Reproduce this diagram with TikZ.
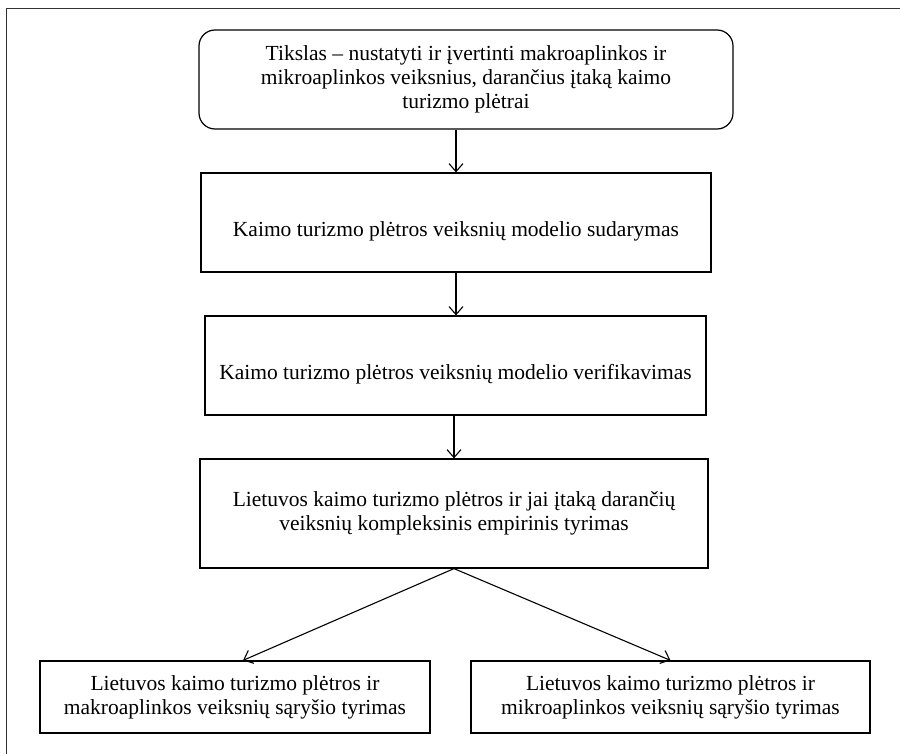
\documentclass[tikz,border=0pt]{standalone}
\usepackage{fontspec}
\setmainfont{Liberation Serif}
\usetikzlibrary{arrows.meta,calc}
\begin{document}
\begin{tikzpicture}[x=1pt,y=-1pt,
  every node/.style={font=\fontsize{21.5}{23.8}\selectfont, align=center, inner sep=0pt,
    execute at begin node={\rule{0pt}{32pt}}},
  stagebox/.style={draw, line width=1.2pt, rectangle},
  goalbox/.style={stagebox, rounded corners=16pt},
  arr/.style={-{Straight Barb[length=8pt,width=14pt,line width=1.1pt]}, line width=1.1pt}]
  \useasboundingbox (0,0) rectangle (900,754);
  % outer frame (runs past the page on the right and bottom)
  \draw[line width=1.6pt, black!80] (6.5,8.5) rectangle (920,780);

  \node[goalbox, minimum width=534pt, minimum height=99pt] (goal) at (466,79.5)
    {Tikslas -- nustatyti ir įvertinti makroaplinkos ir\\mikroaplinkos veiksnius, darančius įtaką kaimo\\turizmo plėtrai};
  \node[stagebox, minimum width=510pt, minimum height=99pt] (model) at (456,222.5)
    {Kaimo turizmo plėtros veiksnių modelio sudarymas};
  \node[stagebox, minimum width=501pt, minimum height=99pt] (verif) at (455.5,365.5)
    {Kaimo turizmo plėtros veiksnių modelio verifikavimas};
  \node[stagebox, minimum width=508pt, minimum height=109pt] (empir) at (454,513.5)
    {Lietuvos kaimo turizmo plėtros ir jai įtaką darančių\\veiksnių kompleksinis empirinis tyrimas};
  \node[stagebox, minimum width=390pt, minimum height=72pt] (macro) at (235,697)
    {Lietuvos kaimo turizmo plėtros ir\\makroaplinkos veiksnių sąryšio tyrimas};
  \node[stagebox, minimum width=399pt, minimum height=72pt] (micro) at (670.5,697)
    {Lietuvos kaimo turizmo plėtros ir\\mikroaplinkos veiksnių sąryšio tyrimas};

  \draw[arr] (model.north |- goal.south) -- (model.north);
  \draw[arr] (model.south) -- (model.south |- verif.north);
  \draw[arr] (verif.south -| empir.north) -- (empir.north);
  \draw[arr] (empir.south) -- ($(macro.north)+(8,0)$);
  \draw[arr] (empir.south) -- (micro.north);
\end{tikzpicture}
\end{document}
